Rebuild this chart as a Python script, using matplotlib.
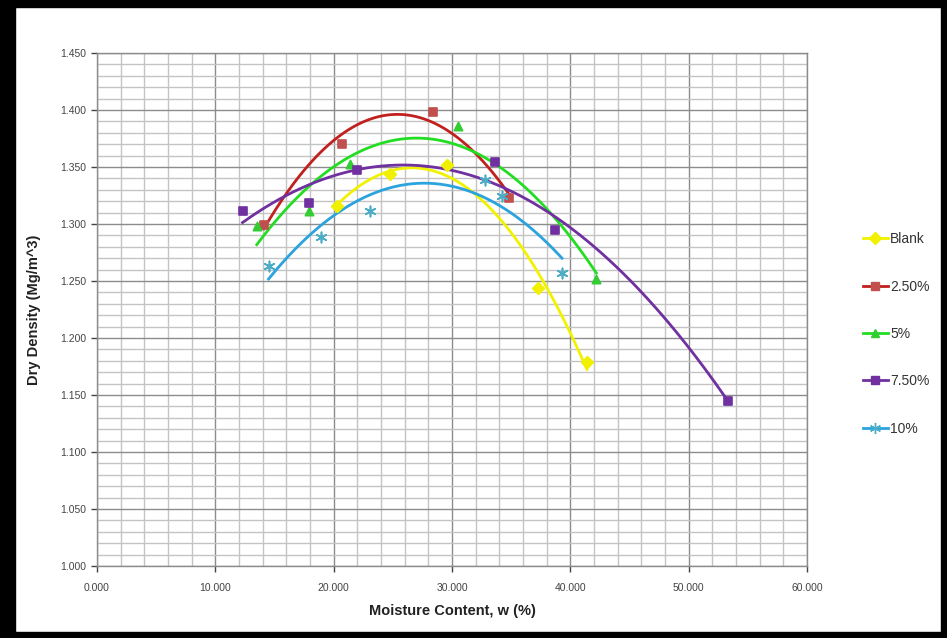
import numpy as np
import matplotlib
matplotlib.use("Agg")
import matplotlib.pyplot as plt
from matplotlib.patches import Rectangle
from matplotlib.lines import Line2D

plt.rcParams['font.family'] = ['Liberation Sans', 'DejaVu Sans']

# ---- data ----
labels = ["Blank", "2.50%", "5%", "7.50%", "10%"]
blank_w = [20.3, 24.8, 29.6, 37.3, 41.4]
blank_d = [1.316, 1.344, 1.352, 1.244, 1.179]
p25_w = [14.1, 20.7, 28.4, 34.8]
p25_d = [1.299, 1.370, 1.398, 1.323]
p5_w = [13.5, 17.9, 21.4, 30.5, 42.2]
p5_d = [1.298, 1.311, 1.353, 1.386, 1.252]
p75_w = [12.3, 17.9, 22.0, 33.6, 38.7, 53.3]
p75_d = [1.311, 1.318, 1.347, 1.354, 1.295, 1.145]
p10_w = [14.5, 18.9, 23.1, 32.8, 34.2, 39.3]
p10_d = [1.263, 1.289, 1.311, 1.339, 1.325, 1.257]

series = [(blank_w, blank_d), (p25_w, p25_d), (p5_w, p5_d), (p75_w, p75_d), (p10_w, p10_d)]
line_colors = ["#F2F200", "#C0201E", "#22DD22", "#7030A0", "#2BA3DD"]
marker_colors = ["#F0F000", "#C0504D", "#33CC33", "#7030A0", "#4BACC6"]
markers = ["D", "s", "^", "s", (6, 2, 0)]
degrees = [2, 2, 2, 2, 2]

fig = plt.figure(figsize=(9.47, 6.38), dpi=100)
ax = fig.add_axes([97/947, 1-566/638, (807-97)/947, (566-53)/638])

for (w, d), lc, mc, mk, deg, lab in zip(series, line_colors, marker_colors, markers, degrees, labels):
    coef = np.polyfit(w, d, deg)
    xs = np.linspace(min(w), max(w), 200)
    ax.plot(xs, np.polyval(coef, xs), color=lc, lw=2.0, zorder=3)
    ax.scatter(w, d, marker=mk, color=mc, s=36 if mk != (6, 2, 0) else 55,
               linewidths=1.2, zorder=4)

ax.set_xlim(0, 60)
ax.set_ylim(1.0, 1.45)
ax.set_xticks(np.arange(0, 61, 10))
ax.set_xticks(np.arange(0, 61, 2), minor=True)
ax.set_yticks(np.arange(1.0, 1.451, 0.05))
ax.set_yticks(np.arange(1.0, 1.451, 0.01), minor=True)
ax.set_xticklabels([f"{v:.3f}" for v in np.arange(0, 61, 10)])
ax.set_yticklabels([f"{v:.3f}" for v in np.arange(1.0, 1.451, 0.05)])
ax.grid(which="minor", color="#C4C4C4", lw=1.0, zorder=0)
ax.grid(which="major", color="#8C8C8C", lw=1.0, zorder=0)
ax.set_axisbelow(True)
ax.tick_params(which="major", labelsize=7.5, colors="#444444", length=4, width=1, direction="out")
ax.tick_params(which="minor", length=0)
ax.tick_params(axis="x", pad=8)
for s in ax.spines.values():
    s.set_color("#8C8C8C")
    s.set_linewidth(1.0)

ax.set_xlabel("Moisture Content, w (%)", fontsize=10.5, fontweight="bold", color="#222222", labelpad=8)
ax.set_ylabel("Dry Density (Mg/m^3)", fontsize=10.5, fontweight="bold", color="#222222", labelpad=14)

handles = [Line2D([0], [0], color=lc, lw=2, marker=mk, markerfacecolor=mc, markeredgecolor=mc,
                  markersize=6 if mk != (6, 2, 0) else 8)
           for lc, mc, mk in zip(line_colors, marker_colors, markers)]
leg = fig.legend(handles, labels, loc="center left", bbox_to_anchor=(850/947, 1-334/638),
                 frameon=False, fontsize=10, labelspacing=2.4, handlelength=1.8, handletextpad=0.2)
for t in leg.get_texts():
    t.set_color("#333333")

# black frame around the picture
fig.patches.append(Rectangle((0, 0), 15/947, 1, transform=fig.transFigure, color="black", zorder=10))
fig.patches.append(Rectangle((0, 1-7/638), 1, 7/638, transform=fig.transFigure, color="black", zorder=10))
fig.patches.append(Rectangle((0, 0), 1, 6/638, transform=fig.transFigure, color="black", zorder=10))
fig.patches.append(Rectangle((1-6/947, 0), 6/947, 1, transform=fig.transFigure, color="black", zorder=10))

fig.savefig("out.png", dpi=100)
